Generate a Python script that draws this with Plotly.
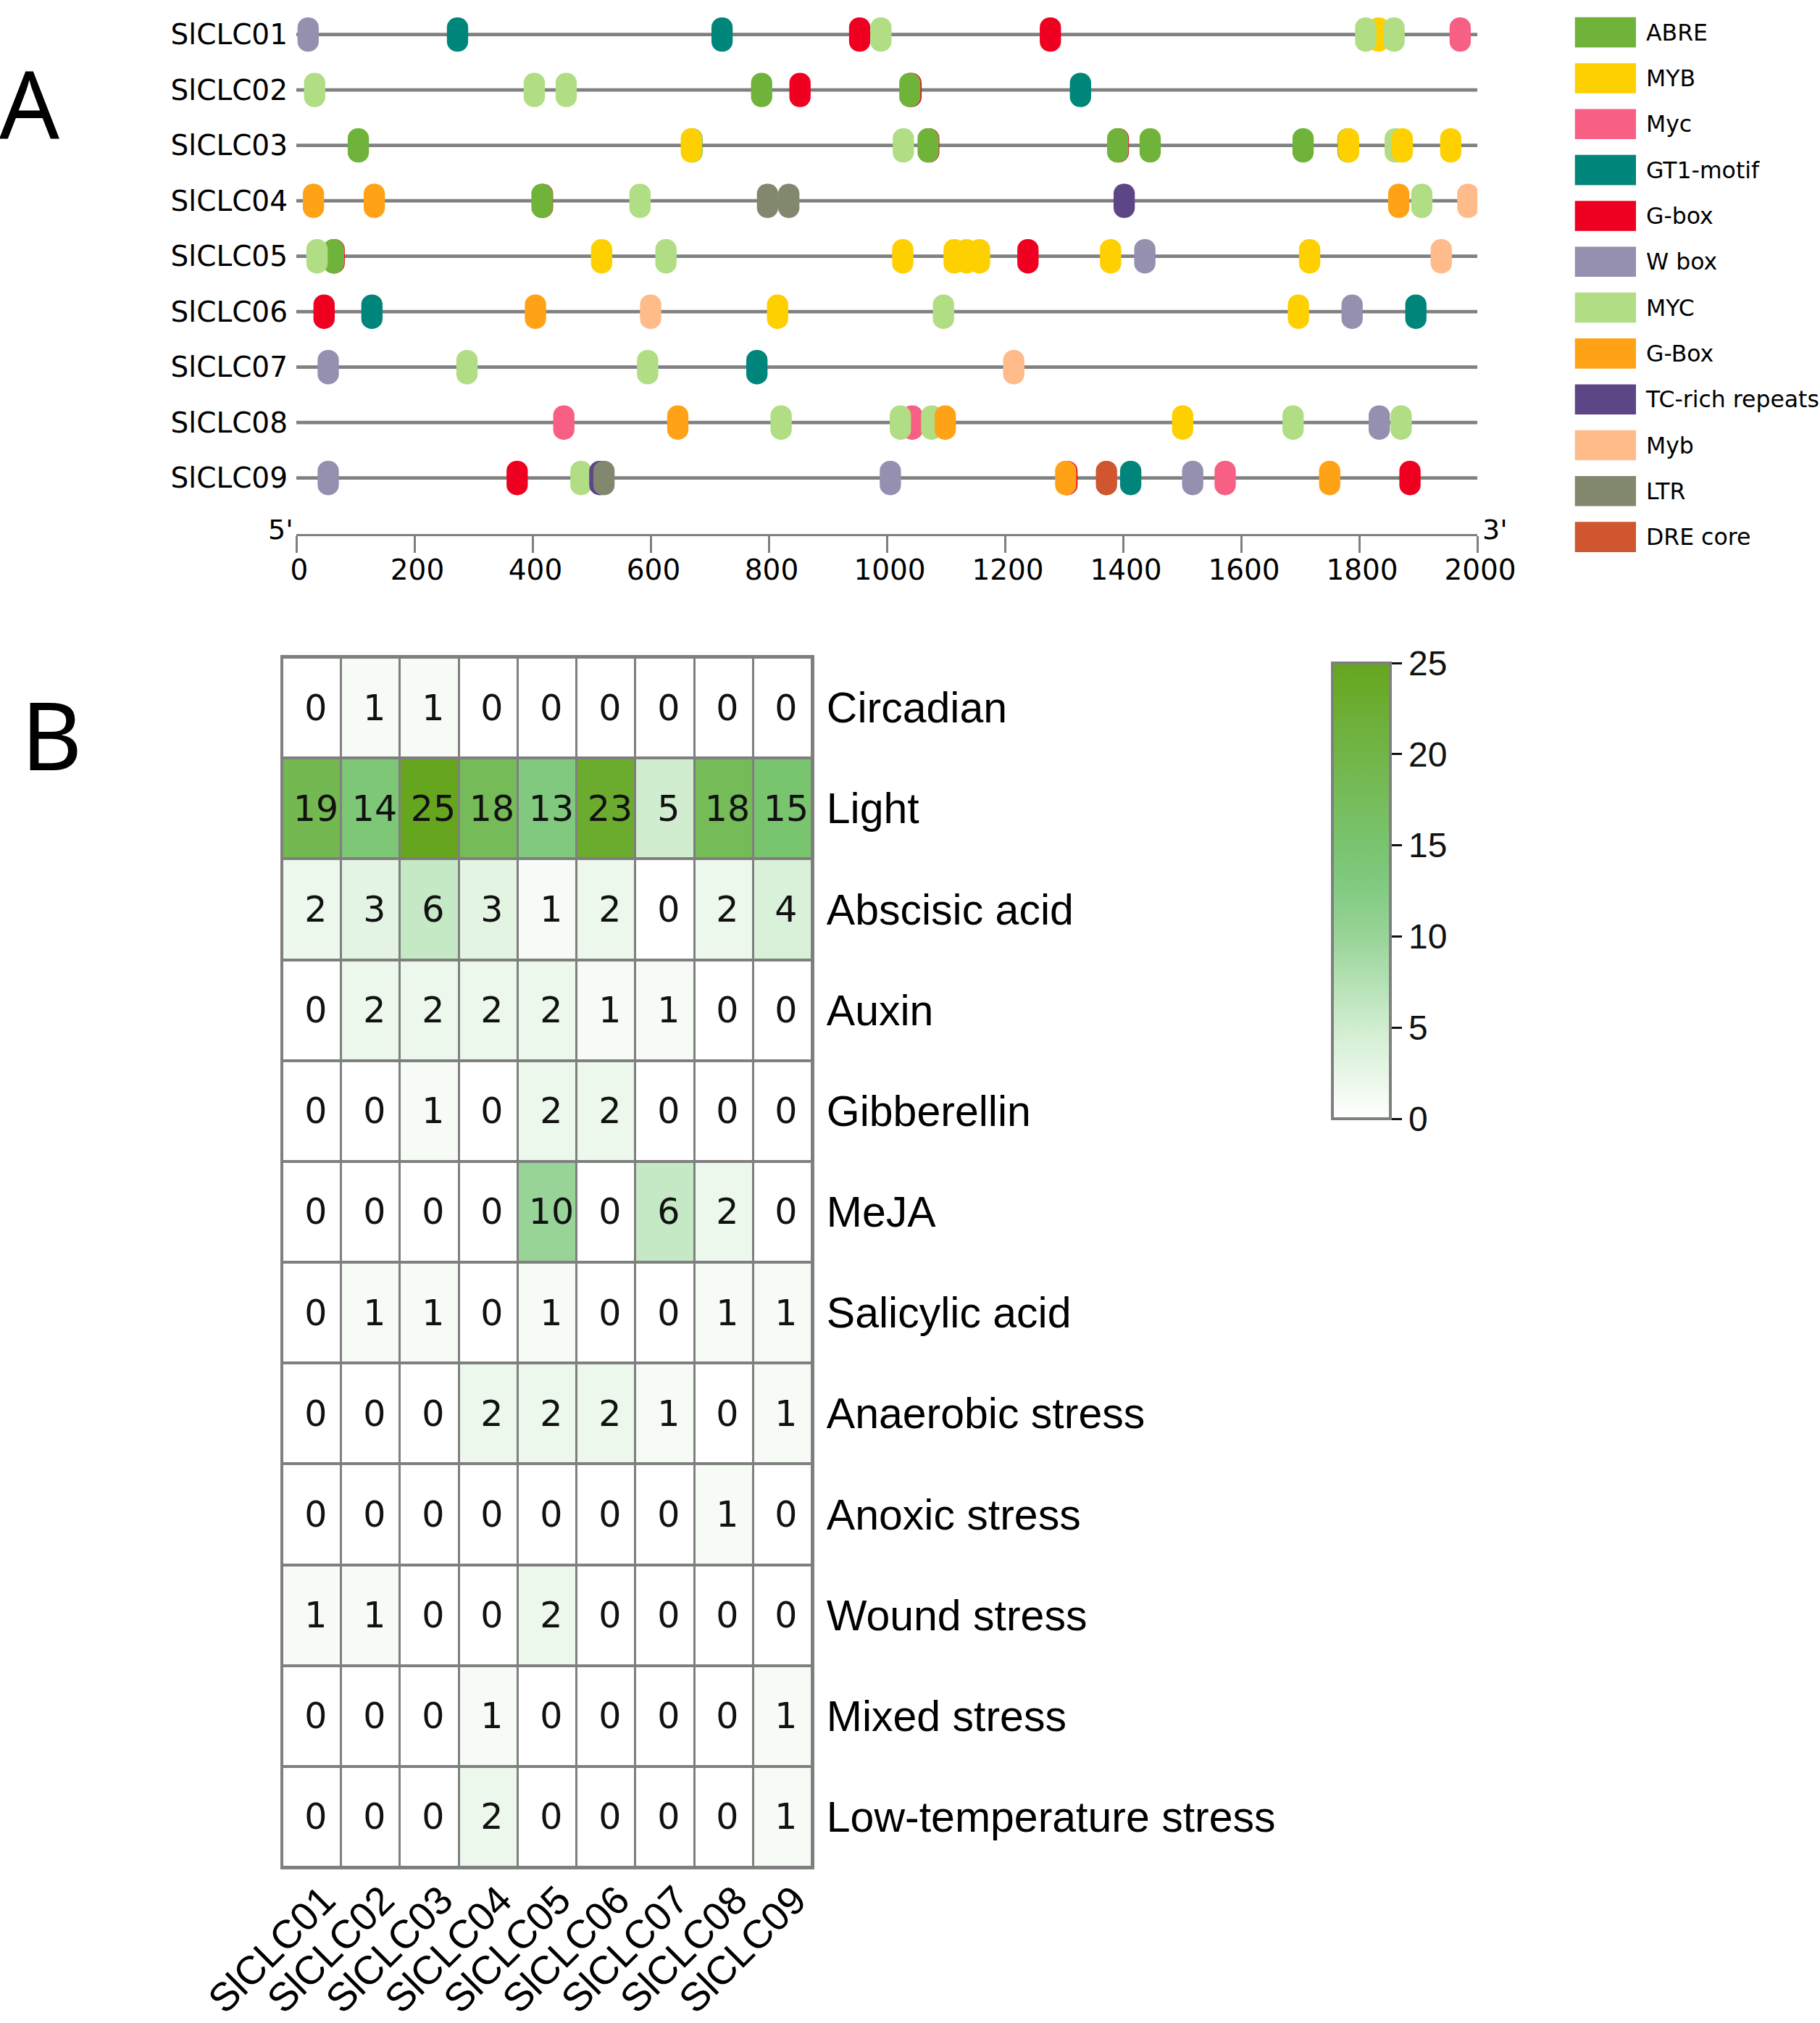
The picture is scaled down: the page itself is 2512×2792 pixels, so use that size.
import plotly.graph_objects as go

W, H = 2512, 2792
DV = "DejaVu Sans"
AR = "Liberation Sans"
GRAY = "#7f7f7f"

genes = ["SlCLC01", "SlCLC02", "SlCLC03", "SlCLC04", "SlCLC05", "SlCLC06", "SlCLC07", "SlCLC08", "SlCLC09"]
motif_names = ["ABRE", "MYB", "Myc", "GT1-motif", "G-box", "W box", "MYC", "G-Box", "TC-rich repeats", "Myb", "LTR", "DRE core"]
motif_colors = ["#70b33a", "#ffd000", "#f75f85", "#00857a", "#f00020", "#9590b0", "#b1dd84", "#ffa216", "#5c4685", "#ffbb8a", "#81886e", "#cf562e"]
seq_length = 2000
motif_len = 36

pos01 = [20, 273, 721, 954, 990, 1277, 1833, 1811, 1859, 1971]
mot01 = ["W box", "GT1-motif", "GT1-motif", "G-box", "MYC", "G-box", "MYB", "MYC", "MYC", "Myc"]
pos02 = [31, 403, 457, 788, 853, 1041, 1039, 1328]
mot02 = ["MYC", "MYC", "MYC", "ABRE", "G-box", "G-box", "ABRE", "GT1-motif"]
pos03 = [105, 670, 669, 1028, 1071, 1070, 1392, 1391, 1446, 1705, 1781, 1782, 1861, 1873, 1955]
mot03 = ["ABRE", "ABRE", "MYB", "MYC", "G-box", "ABRE", "G-box", "ABRE", "ABRE", "ABRE", "ABRE", "MYB", "MYC", "MYB", "MYB"]
pos04 = [29, 132, 417, 416, 582, 798, 834, 1402, 1867, 1906, 1984]
mot04 = ["G-Box", "G-Box", "DRE core", "ABRE", "MYC", "LTR", "LTR", "TC-rich repeats", "G-Box", "MYC", "Myb"]
pos05 = [64, 63, 35, 517, 626, 1027, 1114, 1135, 1157, 1239, 1379, 1437, 1716, 1939]
mot05 = ["G-box", "ABRE", "MYC", "MYB", "MYC", "MYB", "MYB", "MYB", "MYB", "G-box", "MYB", "W box", "MYB", "Myb"]
pos06 = [47, 128, 405, 600, 815, 1096, 1697, 1788, 1896]
mot06 = ["G-box", "GT1-motif", "G-Box", "Myb", "MYB", "MYC", "MYB", "W box", "GT1-motif"]
pos07 = [54, 289, 595, 780, 1215]
mot07 = ["W box", "MYC", "MYC", "GT1-motif", "Myb"]
pos08 = [453, 646, 821, 1043, 1023, 1076, 1099, 1501, 1688, 1834, 1871]
mot08 = ["Myc", "G-Box", "MYC", "Myc", "MYC", "MYC", "G-Box", "MYB", "MYC", "W box", "MYC"]
pos09 = [54, 374, 482, 514, 521, 1006, 1305, 1303, 1372, 1413, 1518, 1573, 1750, 1886]
mot09 = ["W box", "G-box", "MYC", "TC-rich repeats", "LTR", "W box", "G-box", "G-Box", "DRE core", "GT1-motif", "W box", "Myc", "G-Box", "G-box"]

positions = [pos01, pos02, pos03, pos04, pos05, pos06, pos07, pos08, pos09]
motifs = [mot01, mot02, mot03, mot04, mot05, mot06, mot07, mot08, mot09]
axis_ticks = [0, 200, 400, 600, 800, 1000, 1200, 1400, 1600, 1800, 2000]

responses = ["Circadian", "Light", "Abscisic acid", "Auxin", "Gibberellin", "MeJA", "Salicylic acid",
             "Anaerobic stress", "Anoxic stress", "Wound stress", "Mixed stress", "Low-temperature stress"]
counts = [
    [0, 1, 1, 0, 0, 0, 0, 0, 0],
    [19, 14, 25, 18, 13, 23, 5, 18, 15],
    [2, 3, 6, 3, 1, 2, 0, 2, 4],
    [0, 2, 2, 2, 2, 1, 1, 0, 0],
    [0, 0, 1, 0, 2, 2, 0, 0, 0],
    [0, 0, 0, 0, 10, 0, 6, 2, 0],
    [0, 1, 1, 0, 1, 0, 0, 1, 1],
    [0, 0, 0, 2, 2, 2, 1, 0, 1],
    [0, 0, 0, 0, 0, 0, 0, 1, 0],
    [1, 1, 0, 0, 2, 0, 0, 0, 0],
    [0, 0, 0, 1, 0, 0, 0, 0, 1],
    [0, 0, 0, 2, 0, 0, 0, 0, 1],
]
colorscale = [[0, "#ffffff"], [0.2, "#d0edd0"], [0.4, "#98d498"], [0.52, "#80c97f"],
              [0.6, "#79c46f"], [0.8, "#72b548"], [1, "#66a61e"]]


def dx(a, b):
    return [a / W, b / W]


def dy(top, bottom):
    return [1 - bottom / H, 1 - top / H]


color_of = dict(zip(motif_names, motif_colors))
fig = go.Figure()

fig.add_trace(go.Bar(y=genes, x=[seq_length] * len(genes), base=0, orientation="h", width=0.062,
                     marker=dict(color="#808080", line=dict(width=0)), showlegend=False,
                     hoverinfo="skip", xaxis="x", yaxis="y"))
for g, p, m in zip(genes, positions, motifs):
    fig.add_trace(go.Bar(
        y=[g] * len(p), x=[motif_len] * len(p), base=[v - motif_len / 2 for v in p],
        orientation="h", width=0.62, name=g, text=m, textposition="none",
        marker=dict(color=[color_of[k] for k in m], line=dict(width=0), cornerradius=14.4),
        cliponaxis=False, showlegend=False, xaxis="x", yaxis="y"))

fig.add_trace(go.Bar(
    y=motif_names, x=[1] * len(motif_names), orientation="h", width=0.657,
    marker=dict(color=motif_colors, line=dict(width=0)), showlegend=False, xaxis="x3", yaxis="y3"))

fig.add_trace(go.Heatmap(
    z=counts, x=genes, y=responses, zmin=0, zmax=25, colorscale=colorscale, xgap=3, ygap=4,
    texttemplate="\u2009%{z}", textfont=dict(family=DV, size=49, color="#111111"),
    colorbar=dict(
        x=1839 / W, xanchor="left", xpad=0, y=1 - 915 / H, yanchor="top", ypad=0,
        lenmode="pixels", len=629, thicknessmode="pixels", thickness=80,
        outlinecolor=GRAY, outlinewidth=4, tickmode="array", tickvals=[0, 5, 10, 15, 20, 25],
        ticks="outside", ticklen=14, tickwidth=3, tickcolor="#111111",
        tickfont=dict(family=AR, size=48, color="#111111")),
    xaxis="x2", yaxis="y2"))

annos = [
    dict(text="A", x=-3 / W, y=1 - 232 / H, xanchor="left", yanchor="bottom", font=dict(family="Noto Sans", size=130)),
    dict(text="B", x=27 / W, y=1 - 1103 / H, xanchor="left", yanchor="bottom", font=dict(family="Noto Sans", size=130)),
    dict(text="5'", x=407 / W, y=1 - 731 / H, xanchor="right", yanchor="middle", font=dict(family=DV, size=38)),
    dict(text="3'", x=2044 / W, y=1 - 731 / H, xanchor="left", yanchor="middle", font=dict(family=DV, size=38)),
]
for a in annos:
    a.update(xref="paper", yref="paper", showarrow=False)
    a["font"]["color"] = "#000000"

fig.update_layout(
    width=W, height=H, autosize=False, margin=dict(l=0, r=0, t=0, b=0, pad=0),
    paper_bgcolor="white", plot_bgcolor="white", barmode="overlay", annotations=annos,
    shapes=[dict(type="rect", xref="x2 domain", yref="y2 domain", x0=0, x1=1, y0=0, y1=1,
                 fillcolor=GRAY, line=dict(width=0), layer="below")],
    xaxis=dict(domain=dx(409, 2039), range=[0, 2000], anchor="y", automargin=False, showgrid=False, zeroline=False,
               tickmode="array", tickvals=axis_ticks, ticks="outside", ticklen=23, tickwidth=3,
               tickcolor=GRAY, showline=True, linecolor=GRAY, linewidth=3,
               ticklabelstandoff=-10, ticklabelshift=4,
               tickfont=dict(family=DV, size=39, color="#000000")),
    yaxis=dict(domain=dy(9.35, 737), range=[9.01, -0.5], anchor="x", automargin=False, type="category",
               categoryorder="array", categoryarray=genes, showgrid=False, zeroline=False,
               showline=False, ticks="", ticklabelstandoff=11,
               tickfont=dict(family=DV, size=39, color="#000000")),
    xaxis2=dict(domain=dx(390, 1121), anchor="y2", automargin=False, type="category", categoryorder="array", categoryarray=genes,
                showgrid=False, zeroline=False, showline=True, mirror=True, linecolor=GRAY, linewidth=3,
                ticks="", tickangle=-45, ticklabelstandoff=-12, ticklabelshift=16,
                tickfont=dict(family=AR, size=55, color="#000000")),
    yaxis2=dict(domain=dy(907, 2577), anchor="x2", automargin=False, type="category", categoryorder="array",
                categoryarray=responses, autorange="reversed", side="right", showgrid=False, zeroline=False,
                showline=True, mirror=True, linecolor=GRAY, linewidth=3, ticks="", ticklabelstandoff=5,
                tickfont=dict(family=AR, size=59, color="#000000")),
    xaxis3=dict(domain=dx(2173.5, 2258), range=[0, 1], anchor="y3", automargin=False, visible=False),
    yaxis3=dict(domain=dy(13, 772.8), range=[11.5, -0.5], anchor="x3", automargin=False, type="category", side="right",
                categoryorder="array", categoryarray=motif_names, showgrid=False, zeroline=False,
                showline=False, ticks="", ticklabelstandoff=13,
                tickfont=dict(family=DV, size=31.5, color="#000000")),
)

fig.write_html("out.html", config=dict(displayModeBar=False), post_script="document.body.style.margin='0';")
